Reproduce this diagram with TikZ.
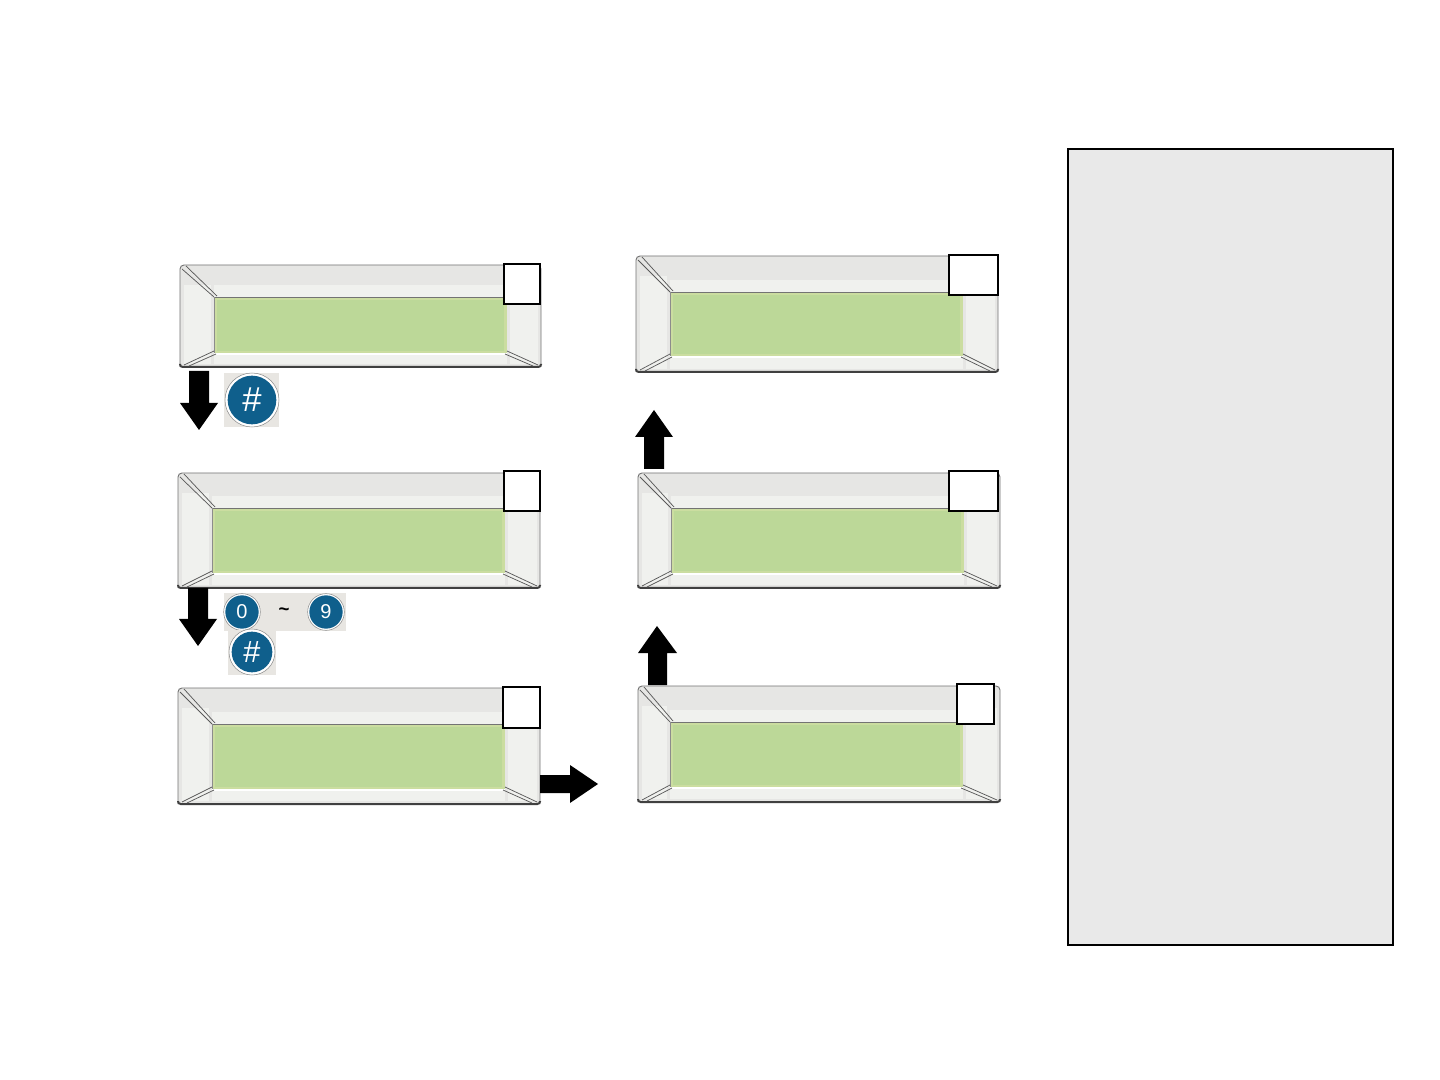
\documentclass[tikz,border=0pt]{standalone}
\usepackage{fontspec}
\setmainfont{Liberation Sans}
\definecolor{bezel}{HTML}{E6E6E4}
\definecolor{bezelhi}{HTML}{F0F1EE}
\definecolor{lcd}{HTML}{BCD898}
\definecolor{lcdedge}{HTML}{CBDDA0}
\definecolor{btn}{HTML}{0F5F8C}
\definecolor{btnbg}{HTML}{E8E6E2}
\definecolor{sidegray}{HTML}{E9E9E9}
\tikzset{
  bezelline/.style={draw=black!65,line width=0.55pt},
  tagbox/.style={draw=black,fill=white,line width=1.1pt},
  blockarrow/.style={fill=black,draw=none},
  keyback/.style={fill=btnbg,draw=none},
  keyring/.style={circle,draw=black!45,fill=white,line width=0.4pt,inner sep=0pt},
  keyface/.style={circle,fill=btn,draw=none,text=white,inner sep=0pt,font=\fontsize{#1}{#1}\selectfont},
}
% panel: outer x0 y0 x1 y1, inner x0 y0 x1 y1
\newcommand{\lcdpanel}[8]{%
  \fill[bezel,rounded corners=3pt] (#1,#2) rectangle (#3,#4);
  \fill[bezelhi] (#1+4,#2+20) rectangle (#5-3,#4-3);
  \fill[bezelhi] (#7+3,#2+22) rectangle (#3-3,#4-3);
  \fill[bezelhi] (#5,#6-12) rectangle (#7,#6);
  \fill[bezelhi] (#5,#8) rectangle (#7,#4-3);
  \draw[black!55,line width=0.7pt,rounded corners=3pt] (#1,#4) -- (#1,#2) -- (#3,#2) -- (#3,#4);
  \draw[black!75,line width=1.5pt,rounded corners=2pt] (#1,#4-3) -- (#1,#4) -- (#3,#4) -- (#3,#4-3);
  \fill[lcd] (#5,#6) rectangle (#7,#8);
  \draw[lcdedge,line width=1.6pt] (#5+1.5,#6+2) rectangle (#7-1.5,#8-1.5);
  \draw[black!55,line width=0.6pt] (#5,#6) -- (#7,#6);
  \draw[black!45,line width=0.5pt] (#5,#6) -- (#5,#8);
  \draw[white,line width=0.8pt] (#5,#8) -- (#7,#8);
  \draw[bezelline] (#1+2,#2+4) -- (#5,#6) (#1+6,#2+1) -- (#5+3,#6-1);
  \draw[bezelline] (#1+4,#4-2) -- (#5,#8-3) (#1+9,#4-1) -- (#5+2,#8);
  \draw[bezelline] (#3-3,#4-2) -- (#7,#8-3) (#3-8,#4-1) -- (#7-2,#8);
}
\begin{document}
\begin{tikzpicture}[x=0.75pt,y=-0.75pt]
\useasboundingbox (0,0) rectangle (1440,1080);
\fill[white] (0,0) rectangle (1440,1080);

\lcdpanel{180}{265}{541}{367}{214}{297}{507}{354}
\lcdpanel{178}{473}{540}{588}{212}{508}{505}{574}
\lcdpanel{178}{688}{540}{804}{212}{724}{505}{790}
\lcdpanel{636}{256}{998}{372}{670}{292}{963}{357}
\lcdpanel{638}{473}{1000}{588}{671}{508}{964}{574}
\lcdpanel{638}{686}{1000}{802}{670}{722}{963}{788}

\draw[tagbox] (504,264) rectangle (540,304);
\draw[tagbox] (504,471) rectangle (540,511);
\draw[tagbox] (503,687) rectangle (540,728);
\draw[tagbox] (949,255) rectangle (998,295);
\draw[tagbox] (949,471) rectangle (998,511);
\draw[tagbox] (957,684) rectangle (994,724);

% block arrows
\fill[blockarrow] (189,371) -- (209,371) -- (209,403) -- (218,403) -- (199,430) -- (180,403) -- (189,403) -- cycle;
\fill[blockarrow] (188,588) -- (208,588) -- (208,619) -- (217,619) -- (198,646) -- (179,619) -- (188,619) -- cycle;
\fill[blockarrow] (540,775) -- (570,775) -- (570,765) -- (598,784) -- (570,803) -- (570,793) -- (540,793) -- cycle;
\fill[blockarrow] (644,469) -- (664,469) -- (664,437) -- (673,437) -- (654,410) -- (635,437) -- (644,437) -- cycle;
\fill[blockarrow] (648,685) -- (667,685) -- (667,653) -- (677,653) -- (657,626) -- (638,653) -- (648,653) -- cycle;

% keys
\fill[keyback] (224,373) rectangle (279,427);
\node[keyring,minimum size=40.5pt] (ringa) at (252,400) {};
\node[keyface=26,minimum size=36.5pt] (hasha) at (252,400) {\#};

\fill[keyback] (224,593) rectangle (346,631);
\node[keyring,minimum size=27.5pt] (ringzero) at (242,612) {};
\node[keyface=15,minimum size=25pt] (zero) at (242,612) {0};
\node[keyring,minimum size=27.5pt] (ringnine) at (326,612) {};
\node[keyface=15,minimum size=25pt] (nine) at (326,612) {9};
\node[inner sep=0pt,font=\fontsize{14}{14}\selectfont\bfseries] (tilde) at (284,612) {\char`\~};

\fill[keyback] (228,630) rectangle (276,675);
\node[keyring,minimum size=34.5pt] (ringb) at (252,652) {};
\node[keyface=23,minimum size=30.5pt] (hashb) at (252,652) {\#};

% side panel
\draw[fill=sidegray,draw=black,line width=1pt] (1068,149) rectangle (1393,945);
\end{tikzpicture}
\end{document}
